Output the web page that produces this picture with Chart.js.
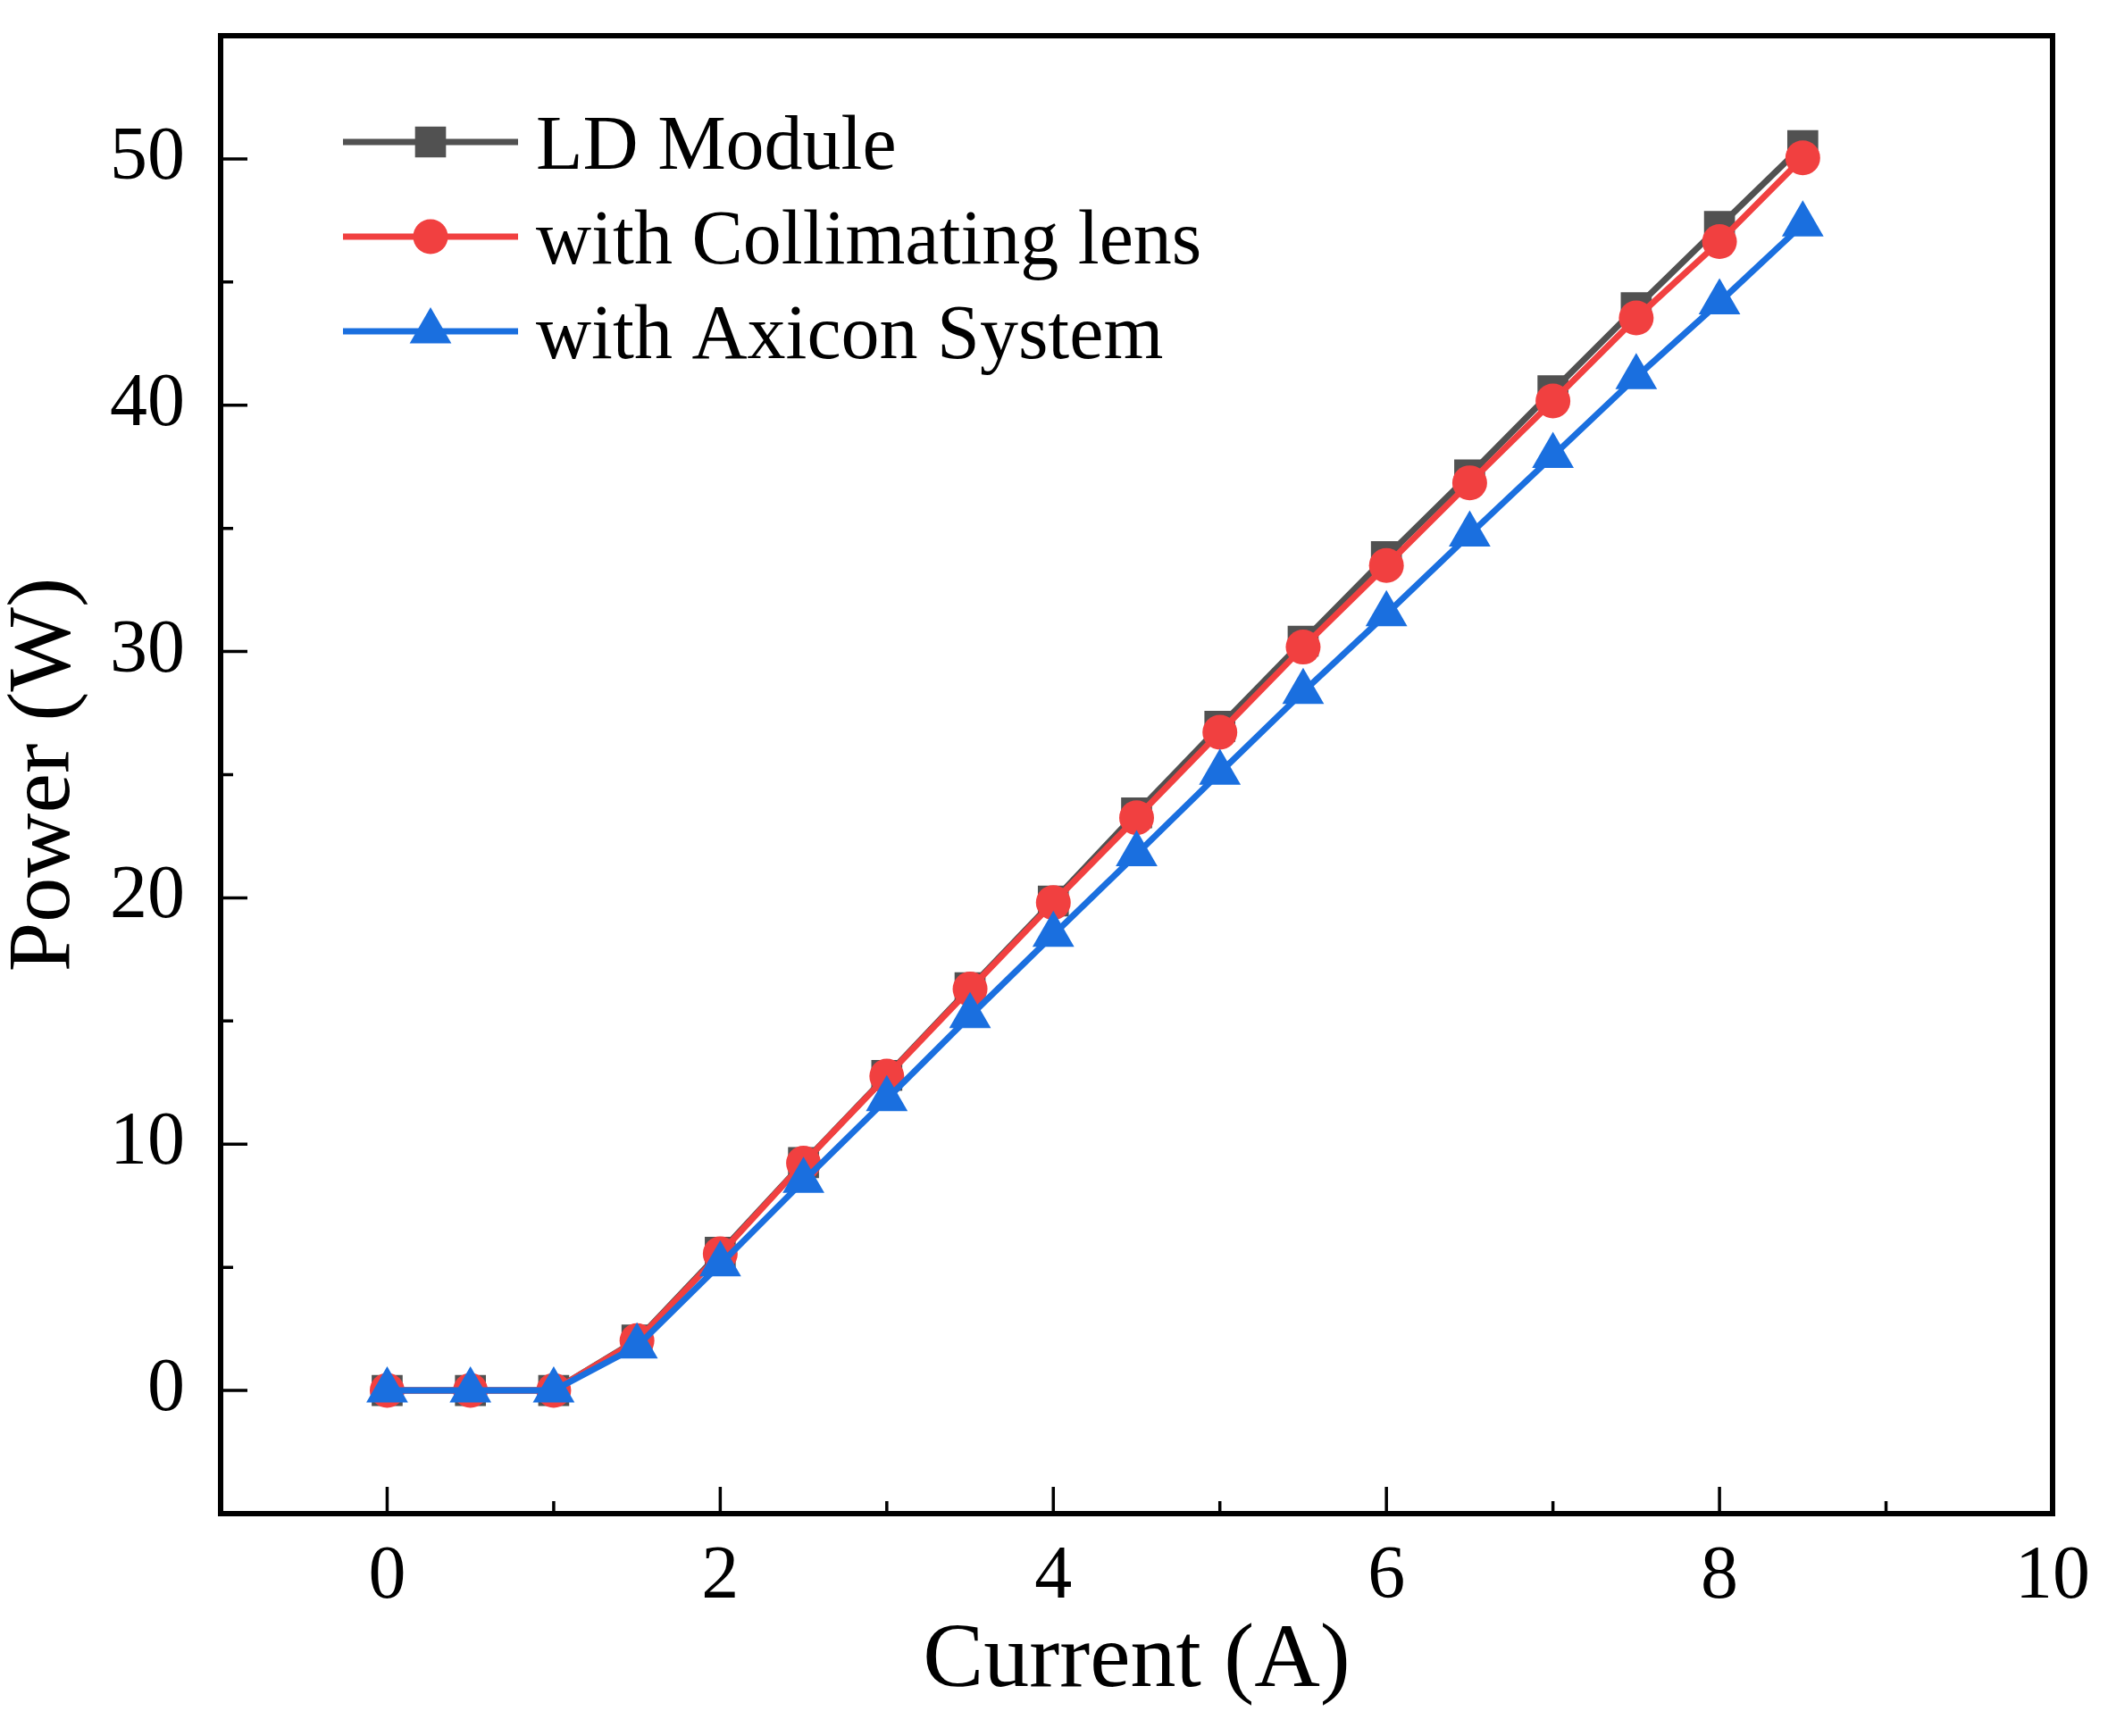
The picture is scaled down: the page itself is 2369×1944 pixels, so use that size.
<!DOCTYPE html>
<html><head><meta charset="utf-8">
<script src="https://cdn.jsdelivr.net/npm/chart.js@4.4.1/dist/chart.umd.min.js"></script>
<style>html,body{margin:0;padding:0;background:#fff;} canvas{display:block;}</style>
</head><body>
<canvas id="c" width="2369" height="1944" style="width:2369px;height:1944px"></canvas>
<script>
// ---- data ----
const currents    = [0,0.5,1,1.5,2,2.5,3,3.5,4,4.5,5,5.5,6,6.5,7,7.5,8,8.5];
const ldModule    = [0,0,0,2.05,5.61,9.25,12.79,16.35,19.87,23.45,26.96,30.42,33.85,37.17,40.59,43.96,47.26,50.54];
const collimating = [0,0,0,2.02,5.55,9.23,12.76,16.30,19.81,23.25,26.72,30.18,33.49,36.85,40.17,43.54,46.64,50.04];
const axicon      = [0,0,0,1.79,5.12,8.51,11.83,15.20,18.50,21.77,25.08,28.36,31.52,34.75,37.94,41.14,44.18,47.34];
const seriesNames = ['LD Module','with Collimating lens','with Axicon System'];
const xMajorTicks = [0,2,4,6,8,10];
const xMinorTicks = [1,3,5,7,9];
const yMajorTicks = [0,10,20,30,40,50];
const yMinorTicks = [5,15,25,35,45];
const xTitle = 'Current (A)';
const yTitle = 'Power (W)';

const FONT = "'Liberation Serif','Times New Roman',Times,serif";
const colors = ['#515151','#F14040','#1A6FDF'];
const styles = ['rect','circle','triangle'];
const radii = [24.5,19.5,27];

function mk(i, values, order){
  return {
    label: seriesNames[i],
    data: currents.map((x,k)=>({x:x,y:values[k]})),
    borderColor: colors[i],
    backgroundColor: colors[i],
    pointBackgroundColor: colors[i],
    pointBorderWidth: 0,
    pointStyle: styles[i],
    pointRadius: radii[i],
    pointHoverRadius: radii[i],
    borderWidth: 7,
    tension: 0,
    order: order,
    clip: false
  };
}

const framePlugin = {
  id: 'frame',
  afterDraw(chart){
    const {ctx, chartArea:a, scales:{x, y}} = chart;
    ctx.save();
    ctx.strokeStyle = '#000';
    ctx.lineCap = 'butt';
    ctx.lineWidth = 3.5;
    ctx.beginPath();
    xMajorTicks.forEach(v=>{const p=x.getPixelForValue(v); ctx.moveTo(p,a.bottom); ctx.lineTo(p,a.bottom-30);});
    xMinorTicks.forEach(v=>{const p=x.getPixelForValue(v); ctx.moveTo(p,a.bottom); ctx.lineTo(p,a.bottom-14);});
    yMajorTicks.forEach(v=>{const p=y.getPixelForValue(v); ctx.moveTo(a.left,p); ctx.lineTo(a.left+30,p);});
    yMinorTicks.forEach(v=>{const p=y.getPixelForValue(v); ctx.moveTo(a.left,p); ctx.lineTo(a.left+14,p);});
    ctx.stroke();
    ctx.lineWidth = 6;
    ctx.lineJoin = 'miter';
    ctx.strokeRect(a.left, a.top, a.right-a.left, a.bottom-a.top);
    ctx.restore();
  }
};

const legendPlugin = {
  id: 'customLegend',
  afterDatasetsDraw(chart){
    const ctx = chart.ctx;
    const rowsY = [159,265,371];
    ctx.save();
    chart.data.datasets.forEach((ds,i)=>{
      const yy = rowsY[i];
      ctx.strokeStyle = ds.borderColor;
      ctx.lineWidth = ds.borderWidth;
      ctx.beginPath(); ctx.moveTo(384,yy); ctx.lineTo(580,yy); ctx.stroke();
      ctx.fillStyle = ds.backgroundColor;
      Chart.helpers.drawPoint(ctx,{pointStyle:ds.pointStyle,radius:ds.pointRadius,rotation:0,borderWidth:0},482,yy);
      ctx.fillStyle = '#000';
      ctx.font = '86px ' + FONT;
      ctx.textAlign = 'left';
      ctx.textBaseline = 'alphabetic';
      ctx.fillText(ds.label, 600, yy+30);
    });
    ctx.restore();
  }
};

new Chart(document.getElementById('c'), {
  type: 'line',
  data: { datasets: [ mk(0, ldModule, 3), mk(1, collimating, 2), mk(2, axicon, 1) ] },
  options: {
    responsive: false,
    animation: false,
    events: [],
    layout: { padding: { top: 40, right: 71, bottom: 0, left: 0 } },
    plugins: { legend: { display: false }, tooltip: { enabled: false } },
    scales: {
      x: {
        type: 'linear', min: -1, max: 10,
        afterBuildTicks: s => { s.ticks = xMajorTicks.map(v=>({value:v})); },
        afterFit: s => { s.height = 249; s.paddingLeft = 0; s.paddingRight = 0; },
        grid: { display: false, drawTicks: false },
        border: { display: false },
        ticks: { color: '#000', font: { family: FONT, size: 84 }, padding: 22, maxRotation: 0, autoSkip: false },
        title: { display: true, text: xTitle, color: '#000', font: { family: FONT, size: 102, lineHeight: 1.2 }, padding: { top: 0, bottom: 22 } }
      },
      y: {
        type: 'linear', min: -5, max: 55,
        afterBuildTicks: s => { s.ticks = yMajorTicks.map(v=>({value:v})); },
        afterFit: s => { s.width = 247; s.paddingTop = 0; s.paddingBottom = 0; },
        grid: { display: false, drawTicks: false },
        border: { display: false },
        ticks: { color: '#000', font: { family: FONT, size: 84 }, padding: 40, autoSkip: false },
        title: { display: true, text: yTitle, color: '#000', font: { family: FONT, size: 100, lineHeight: 1.0 }, padding: { top: 1, bottom: 0 } }
      }
    }
  },
  plugins: [framePlugin, legendPlugin]
});
</script>
</body></html>
